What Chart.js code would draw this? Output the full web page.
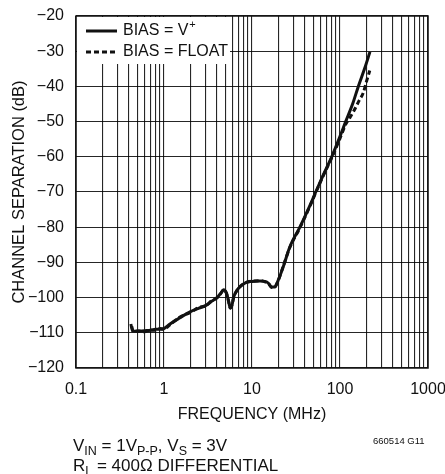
<!DOCTYPE html>
<html>
<head>
<meta charset="utf-8">
<script src="https://cdn.jsdelivr.net/npm/chart.js@4.4.1/dist/chart.umd.min.js"></script>
<style>
  html, body { margin: 0; padding: 0; background: #fff; }
</style>
</head>
<body>
<canvas id="sep-chart" width="445" height="474"></canvas>
<script>
const FONT = '"Liberation Sans", Arial, sans-serif';
const INK = '#111';

// BIAS = V+ (solid)
const freqV = [0.42, 0.44, 0.5, 0.6, 0.7, 0.8, 0.9, 1.0, 1.17, 1.5, 2.0, 2.5, 3.0, 3.5, 4.0, 4.4, 4.75, 5.1, 5.4, 5.65, 5.9, 6.2, 6.8, 7.4, 8.7, 10, 12.3, 14, 15.5, 16.7, 18.2, 19.9, 22.7, 27, 35, 45.6, 53, 65, 80.5, 100, 116, 140, 161.5, 190, 219];
const sepV = [-107.5, -109.5, -109.6, -109.4, -109.3, -109.0, -109.0, -108.8, -107.5, -105.8, -104.0, -103.0, -102.2, -101.0, -100.0, -98.8, -97.8, -98.6, -100.8, -103.0, -102.3, -99.8, -97.8, -96.8, -95.6, -95.4, -95.3, -95.4, -96.0, -97.0, -97.0, -95.0, -91.2, -85.5, -80.0, -73.8, -70.0, -65.0, -60.0, -54.2, -50.0, -44.8, -40.0, -35.0, -30.2];

// BIAS = FLOAT (dashed)
const freqFloat = [0.43, 0.45, 0.5, 0.6, 0.7, 0.8, 0.9, 1.0, 1.17, 1.5, 2.0, 2.5, 3.0, 3.5, 4.0, 4.4, 4.75, 5.1, 5.4, 5.65, 5.9, 6.2, 6.8, 7.4, 8.7, 10, 12.3, 14, 15.5, 16.7, 18.2, 19.9, 22.7, 27, 35, 45.6, 53, 65, 80.5, 100, 116, 130, 144, 166, 184, 201, 218];
const sepFloat = [-108.2, -109.8, -109.4, -109.7, -109.2, -109.3, -108.8, -108.9, -107.7, -105.6, -104.2, -102.8, -102.3, -100.8, -100.1, -98.9, -97.9, -98.7, -100.9, -102.9, -102.2, -99.9, -97.9, -96.7, -95.7, -95.3, -95.2, -95.5, -96.1, -97.1, -96.9, -95.1, -91.0, -85.7, -80.2, -74.0, -70.2, -65.2, -60.3, -54.8, -50.8, -48.8, -46.9, -43.9, -41.8, -38.4, -35.5];

const xDecades = [0.1, 1, 10, 100, 1000];
const yTicks = [-120, -110, -100, -90, -80, -70, -60, -50, -40, -30, -20];
const legendLabels = ['BIAS = V', 'BIAS = FLOAT'];

function toPoints(xs, ys) {
  return xs.map((x, i) => ({ x, y: ys[i] }));
}

function isDecade(v) {
  return xDecades.some(d => Math.abs(v - d) / d < 1e-6);
}

function minus(v) {
  return v < 0 ? '\u2212' + Math.abs(v) : String(v);
}

// text with subscript pieces: [text, isSub]
function drawRich(ctx, parts, x, y, size, subSize) {
  let cx = x;
  parts.forEach(([t, sub]) => {
    ctx.font = (sub ? subSize : size) + 'px ' + FONT;
    ctx.fillText(t, cx, sub ? y + 4 : y);
    cx += ctx.measureText(t).width;
  });
}

const decorPlugin = {
  id: 'decor',
  beforeDatasetsDraw(chart) {
    const { ctx, chartArea: a } = chart;
    ctx.save();
    // legend box covers the grid
    ctx.fillStyle = '#fff';
    ctx.fillRect(a.left + 1, a.top + 1, 153, 47);
    ctx.restore();
  },
  afterDraw(chart) {
    const { ctx, chartArea: a } = chart;
    ctx.save();
    ctx.strokeStyle = INK;
    ctx.lineWidth = 1.5;
    ctx.strokeRect(a.left, a.top, a.right - a.left, a.bottom - a.top);

    // legend
    ctx.lineWidth = 3;
    ctx.beginPath();
    ctx.moveTo(86, 31); ctx.lineTo(117, 31);
    ctx.stroke();
    ctx.setLineDash([5, 3]);
    ctx.beginPath();
    ctx.moveTo(86, 52); ctx.lineTo(118, 52);
    ctx.stroke();
    ctx.setLineDash([]);

    ctx.fillStyle = INK;
    ctx.textBaseline = 'middle';
    ctx.font = '16px ' + FONT;
    ctx.fillText(legendLabels[0], 123, 31);
    const w = ctx.measureText(legendLabels[0]).width;
    ctx.font = '11px ' + FONT;
    ctx.fillText('+', 123 + w + 1, 25);
    ctx.font = '16px ' + FONT;
    ctx.fillText(legendLabels[1], 123, 52);

    // footnotes
    ctx.textBaseline = 'alphabetic';
    drawRich(ctx, [['V'], ['IN', 1], [' = 1V'], ['P-P', 1], [', V'], ['S', 1], [' = 3V']], 73, 451, 17, 12.5);
    drawRich(ctx, [['R'], ['L', 1], [' = 400\u03A9 DIFFERENTIAL']], 73, 471, 17, 12.5);
    ctx.font = '9.5px ' + FONT;
    ctx.fillText('660514 G11', 373, 444);
    ctx.restore();
  }
};

new Chart(document.getElementById('sep-chart'), {
  type: 'line',
  data: {
    datasets: [
      { label: legendLabels[0], data: toPoints(freqV, sepV), borderColor: INK, borderWidth: 3, pointRadius: 0, cubicInterpolationMode: 'monotone' },
      { label: legendLabels[1], data: toPoints(freqFloat, sepFloat), borderColor: INK, borderWidth: 3, borderDash: [5, 3], pointRadius: 0, cubicInterpolationMode: 'monotone' }
    ]
  },
  options: {
    responsive: false,
    animation: false,
    layout: { padding: { left: 0, right: 17, top: 16, bottom: 49.4 } },
    plugins: { legend: { display: false }, tooltip: { enabled: false } },
    scales: {
      x: {
        type: 'logarithmic',
        min: 0.1,
        max: 1000,
        afterBuildTicks(scale) {
          const ticks = [];
          for (let i = 0; i < xDecades.length - 1; i++) {
            for (let m = 1; m <= 9; m++) ticks.push({ value: +(xDecades[i] * m).toPrecision(6) });
          }
          ticks.push({ value: xDecades[xDecades.length - 1] });
          scale.ticks = ticks;
        },
        afterFit(scale) {
          scale.height = 56.6;
          scale.paddingLeft = 0;
          scale.paddingRight = 0;
        },
        grid: { color: 'rgba(0,0,0,0.85)', lineWidth: 1.1, drawTicks: false },
        border: { display: false },
        ticks: {
          autoSkip: false, maxRotation: 0, padding: 12, color: INK,
          font: { family: FONT, size: 16 },
          callback: v => isDecade(v) ? String(v) : ''
        },
        title: { display: true, text: 'FREQUENCY (MHz)', color: INK, font: { family: FONT, size: 16 }, padding: { top: 0, bottom: 0 } }
      },
      y: {
        type: 'linear',
        min: -120,
        max: -20,
        afterBuildTicks(scale) { scale.ticks = yTicks.map(v => ({ value: v })); },
        afterFit(scale) {
          scale.width = 76;
          scale.paddingTop = 0;
          scale.paddingBottom = 0;
        },
        grid: { color: 'rgba(0,0,0,0.85)', lineWidth: 1.1, drawTicks: false },
        border: { display: false },
        ticks: { padding: 12, color: INK, font: { family: FONT, size: 16 }, callback: v => minus(v) },
        title: { display: true, text: 'CHANNEL SEPARATION (dB)', color: INK, font: { family: FONT, size: 16.5 }, padding: { top: 10, bottom: 0 } }
      }
    }
  },
  plugins: [decorPlugin]
});
</script>
</body>
</html>
